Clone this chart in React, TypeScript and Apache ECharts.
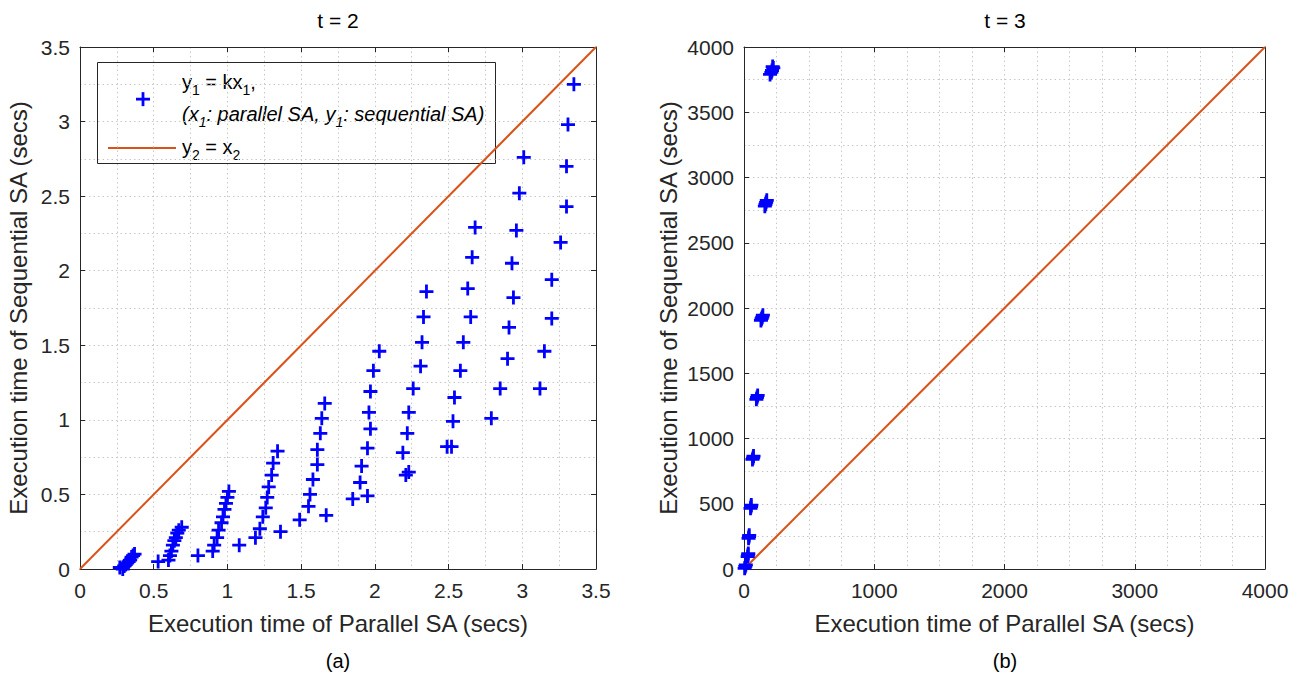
import React, { useEffect, useRef } from "react";
import * as echarts from "echarts";

// ---- data: t = 2 (left), [parallel SA secs, sequential SA secs]
const t2Points: number[][] = [
  [0.27, 0.01], [0.29, 0.0], [0.30, 0.02], [0.31, 0.03], [0.32, 0.04], [0.33, 0.05], [0.34, 0.06], [0.35, 0.08], [0.36, 0.09], [0.37, 0.1],
  [0.53, 0.05], [0.60, 0.06], [0.61, 0.09], [0.62, 0.12], [0.63, 0.16], [0.64, 0.19], [0.65, 0.21], [0.66, 0.24], [0.67, 0.26], [0.69, 0.28],
  [0.80, 0.09], [0.90, 0.12], [0.91, 0.16], [0.93, 0.21], [0.94, 0.26], [0.96, 0.31], [0.97, 0.35], [0.98, 0.40], [0.99, 0.44], [1.00, 0.48], [1.01, 0.52],
  [1.08, 0.16], [1.19, 0.21], [1.22, 0.27], [1.24, 0.35], [1.26, 0.41], [1.27, 0.48], [1.28, 0.55], [1.30, 0.63], [1.31, 0.71], [1.34, 0.79], [1.36, 0.25],
  [1.49, 0.33], [1.55, 0.42], [1.56, 0.50], [1.58, 0.60], [1.61, 0.70], [1.61, 0.80], [1.63, 0.91], [1.64, 1.01], [1.66, 1.11], [1.67, 0.36],
  [1.85, 0.47], [1.95, 0.49], [1.90, 0.58], [1.91, 0.69], [1.95, 0.81], [1.97, 0.94], [1.96, 1.05], [1.97, 1.19], [1.99, 1.33], [2.03, 1.46],
  [2.21, 0.63], [2.23, 0.65], [2.19, 0.78], [2.22, 0.91], [2.23, 1.05], [2.26, 1.21], [2.31, 1.36], [2.32, 1.52], [2.33, 1.69], [2.35, 1.86],
  [2.49, 0.82], [2.52, 0.82], [2.53, 0.99], [2.54, 1.15], [2.58, 1.33], [2.60, 1.52], [2.65, 1.69], [2.63, 1.88], [2.66, 2.09], [2.68, 2.29],
  [2.79, 1.01], [2.85, 1.21], [2.90, 1.41], [2.91, 1.62], [2.94, 1.82], [2.93, 2.05], [2.96, 2.27], [2.98, 2.52], [3.01, 2.76],
  [3.12, 1.21], [3.15, 1.46], [3.20, 1.68], [3.20, 1.94], [3.26, 2.19], [3.30, 2.43], [3.30, 2.70], [3.31, 2.98], [3.35, 3.25],
];

// ---- data: t = 3 (right)
const t3Points: number[][] = [
  [5, 5], [10, 20], [14, 32],
  [28, 95], [31, 108], [33, 118],
  [35, 235], [38, 248], [40, 258],
  [50, 465], [54, 478], [56, 490],
  [65, 840], [70, 852], [73, 865],
  [95, 1300], [100, 1315], [105, 1330],
  [130, 1905], [135, 1918], [140, 1930], [145, 1945],
  [160, 2780], [165, 2795], [170, 2810], [175, 2825],
  [200, 3790], [210, 3805], [215, 3820], [225, 3840], [220, 3850],
];

const refLineA: number[][] = [[0, 0], [3.5, 3.5]];
const refLineB: number[][] = [[0, 0], [4000, 4000]];

const titles = ["t = 2", "t = 3"];
const panelLabels = ["(a)", "(b)"];
const xName = "Execution time of Parallel SA (secs)";
const yName = "Execution time of Sequential SA (secs)";

const FONT = "'Liberation Sans', Arial, Helvetica, sans-serif";
const AX = "#262626";
const ORANGE = "#D95319";
const BLUE = "#0000FF";
const PLUS = "path://M40,0H60V40H100V60H60V100H40V60H0V40H40Z";
const TICK_FS = 21;
const NAME_FS = 24;

const gridLine = { show: true, lineStyle: { color: "#c8c8c8", type: [1.5, 3] as any, width: 1 } };
const fmt = (v: number) => String(v);

function mainX(gridIndex: number, min: number, max: number, interval: number, minorSplit: number) {
  return {
    type: "value", gridIndex, position: "bottom", min, max, interval,
    axisLine: { onZero: false, lineStyle: { color: AX, width: 1 } },
    axisTick: { inside: true, length: 5, lineStyle: { color: AX } },
    axisLabel: { color: AX, fontSize: TICK_FS, fontFamily: FONT, margin: 11, formatter: fmt },
    splitLine: gridLine,
    minorTick: { show: false, splitNumber: minorSplit },
    minorSplitLine: gridLine,
    name: xName, nameLocation: "middle", nameGap: 42,
    nameTextStyle: { color: AX, fontSize: NAME_FS, fontFamily: FONT },
  };
}
function mirrorX(gridIndex: number, min: number, max: number, interval: number) {
  return {
    type: "value", gridIndex, position: "top", min, max, interval,
    axisLine: { onZero: false, lineStyle: { color: AX, width: 1 } },
    axisTick: { inside: true, length: 5, lineStyle: { color: AX } },
    axisLabel: { show: false }, splitLine: { show: false },
  };
}
function mainY(gridIndex: number, min: number, max: number, interval: number, minorSplit: number, gap: number) {
  return {
    type: "value", gridIndex, position: "left", min, max, interval,
    axisLine: { onZero: false, lineStyle: { color: AX, width: 1 } },
    axisTick: { inside: true, length: 5, lineStyle: { color: AX } },
    axisLabel: { color: AX, fontSize: TICK_FS, fontFamily: FONT, margin: 10, formatter: fmt },
    splitLine: gridLine,
    minorTick: { show: false, splitNumber: minorSplit },
    minorSplitLine: gridLine,
    name: yName, nameLocation: "middle", nameGap: gap,
    nameTextStyle: { color: AX, fontSize: NAME_FS, fontFamily: FONT },
  };
}
function mirrorY(gridIndex: number, min: number, max: number, interval: number) {
  return {
    type: "value", gridIndex, position: "right", min, max, interval,
    axisLine: { onZero: false, lineStyle: { color: AX, width: 1 } },
    axisTick: { inside: true, length: 5, lineStyle: { color: AX } },
    axisLabel: { show: false }, splitLine: { show: false },
  };
}

export default function App() {
  const ref = useRef<HTMLDivElement>(null);
  useEffect(() => {
    document.body.style.margin = "0";
    if (!ref.current) return;
    const chart = echarts.init(ref.current, null, { renderer: "svg" });
    const rich = {
      n: { fontSize: 20, fontFamily: FONT, color: "#000" },
      s: { fontSize: 14, fontFamily: FONT, color: "#000", padding: [16, 0, 0, 0] },
      ni: { fontSize: 20, fontFamily: FONT, color: "#000", fontStyle: "italic" },
      si: { fontSize: 14, fontFamily: FONT, color: "#000", fontStyle: "italic", padding: [16, 0, 0, 0] },
    };
    const option: any = {
      animation: false,
      backgroundColor: "#ffffff",
      grid: [
        { left: 80, top: 47, width: 516, height: 522 },
        { left: 744, top: 47, width: 521, height: 522 },
      ],
      xAxis: [
        mainX(0, 0, 3.5, 0.5, 2),
        mirrorX(0, 0, 3.5, 0.5),
        mainX(1, 0, 4000, 1000, 4),
        mirrorX(1, 0, 4000, 1000),
      ],
      yAxis: [
        mainY(0, 0, 3.5, 0.5, 2, 50),
        mirrorY(0, 0, 3.5, 0.5),
        mainY(1, 0, 4000, 500, 2, 64),
        mirrorY(1, 0, 4000, 500),
      ],
      series: [
        {
          type: "line", xAxisIndex: 0, yAxisIndex: 0, data: refLineA, showSymbol: false,
          lineStyle: { color: ORANGE, width: 2 }, z: 2,
        },
        {
          type: "scatter", xAxisIndex: 0, yAxisIndex: 0, data: t2Points, symbol: PLUS, symbolSize: 14,
          itemStyle: { color: BLUE, opacity: 1 }, z: 3,
        },
        {
          type: "line", xAxisIndex: 2, yAxisIndex: 2, data: refLineB, showSymbol: false,
          lineStyle: { color: ORANGE, width: 2 }, z: 2,
        },
        {
          type: "scatter", xAxisIndex: 2, yAxisIndex: 2, data: t3Points, symbol: PLUS, symbolSize: 14,
          itemStyle: { color: BLUE, opacity: 1 }, z: 3,
        },
      ],
      graphic: [
        { type: "text", x: 338, y: 20, style: { text: titles[0], font: `21px ${FONT}`, fill: "#000", align: "center", verticalAlign: "middle" } },
        { type: "text", x: 1005, y: 20, style: { text: titles[1], font: `21px ${FONT}`, fill: "#000", align: "center", verticalAlign: "middle" } },
        { type: "text", x: 338, y: 661, style: { text: panelLabels[0], font: `20px ${FONT}`, fill: "#000", align: "center", verticalAlign: "middle" } },
        { type: "text", x: 1005, y: 661, style: { text: panelLabels[1], font: `20px ${FONT}`, fill: "#000", align: "center", verticalAlign: "middle" } },
        {
          type: "group", z: 100,
          children: [
            { type: "rect", shape: { x: 97.5, y: 62.5, width: 398, height: 101 }, style: { fill: "#fff", stroke: AX, lineWidth: 1 } },
            { type: "rect", shape: { x: 136, y: 97.75, width: 14, height: 2.8 }, style: { fill: BLUE } },
            { type: "rect", shape: { x: 141.6, y: 92.15, width: 2.8, height: 14 }, style: { fill: BLUE } },
            { type: "line", shape: { x1: 108, y1: 148, x2: 176, y2: 148 }, style: { stroke: ORANGE, lineWidth: 2 } },
            {
              type: "text", x: 182, y: 82,
              style: { text: "{n|y}{s|1}{n| = kx}{s|1}{n|,}", rich, verticalAlign: "middle", align: "left" },
            },
            {
              type: "text", x: 182, y: 114,
              style: { text: "{ni|(x}{si|1}{ni|: parallel SA, y}{si|1}{ni|: sequential SA)}", rich, verticalAlign: "middle", align: "left" },
            },
            {
              type: "text", x: 182, y: 147,
              style: { text: "{n|y}{s|2}{n| = x}{s|2}", rich, verticalAlign: "middle", align: "left" },
            },
          ],
        },
      ],
    };
    chart.setOption(option);
    return () => chart.dispose();
  }, []);
  return <div ref={ref} style={{ width: 1304, height: 675 }} />;
}
